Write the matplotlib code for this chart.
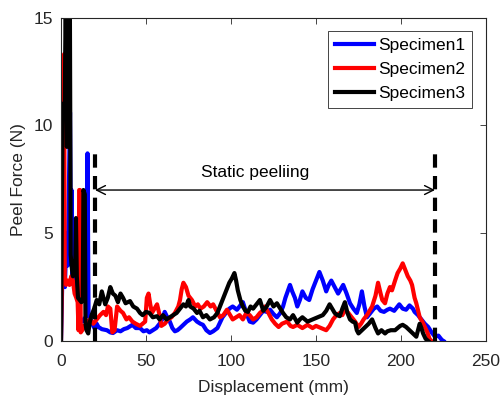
import numpy as np
import matplotlib
matplotlib.use("Agg")
import matplotlib.pyplot as plt

plt.rcParams['font.family'] = ['Liberation Sans', 'DejaVu Sans']

# ---- data ----
x1 = [0, 0.8, 1.5, 2.3, 3.2, 4.0, 4.8, 5.3, 5.8, 6.2, 6.6, 7.5, 8.5, 9.5, 10.5, 11.5, 12.5, 13.5, 14.5, 15.2, 15.6, 16.2, 17, 18, 19, 20, 21, 22, 24, 27, 29, 30.6, 33, 35, 37, 39, 42, 44, 46.5, 48.5, 50.5, 52, 54, 56, 58, 59.5, 61, 62.5, 64, 65.5, 67, 68.5, 70, 72, 74, 76, 77.6, 80, 82, 83.5, 85.5, 87.6, 89.5, 92, 93.5, 95, 97, 99, 101, 103.5, 105, 107, 109, 111, 113, 115, 117, 119, 121, 123, 125, 127, 129, 130.6, 132, 134.7, 136, 137.6, 139, 140.5, 142, 144, 146, 148, 150, 152, 154, 156, 157.5, 159, 161, 163, 164.5, 166, 168, 170, 172, 174, 175.5, 177, 178.5, 180, 182, 184, 186, 188, 190, 192, 193.5, 196, 199, 201, 203, 205, 207, 208, 210, 212, 214, 216, 218, 220, 222, 224, 225]
y1 = [0, 3, 6, 2.5, 5, 3.5, 8, 10.6, 4, 7.0, 3.0, 3.5, 2.8, 2.2, 1.5, 1.0, 0.9, 1.0, 1.1, 1.2, 8.7, 1.3, 1.1, 0.9, 0.7, 0.55, 0.8, 0.65, 0.55, 0.5, 0.4, 0.37, 0.5, 0.45, 0.55, 0.6, 0.75, 0.6, 0.6, 0.45, 0.5, 0.4, 0.5, 0.6, 0.8, 1.0, 1.35, 1.1, 0.9, 0.6, 0.45, 0.5, 0.6, 0.75, 0.9, 1.0, 1.1, 0.9, 0.8, 0.75, 0.5, 0.37, 0.45, 0.6, 0.85, 1.1, 1.3, 1.5, 1.6, 1.45, 1.6, 1.8, 1.3, 0.9, 0.85, 1.0, 1.2, 1.4, 1.35, 1.45, 1.25, 1.1, 1.3, 1.6, 2.0, 2.6, 2.3, 2.0, 1.6, 1.9, 2.3, 2.0, 1.9, 2.4, 2.8, 3.2, 2.8, 2.3, 2.6, 2.8, 2.5, 2.2, 2.4, 2.6, 2.2, 1.75, 1.5, 1.3, 1.7, 2.3, 1.6, 1.1, 1.3, 1.5, 1.6, 1.4, 1.35, 1.45, 1.5, 1.4, 1.7, 1.5, 1.45, 1.65, 1.5, 1.35, 1.2, 1.0, 0.8, 0.65, 0.4, 0.2, 0.25, 0.05, 0.0]

x2 = [0, 0.8, 1.4, 1.8, 2.2, 3, 4, 5, 6, 7, 8, 9, 9.8, 10.3, 10.7, 11.2, 11.6, 12.5, 13.5, 14.5, 15.5, 17, 19, 21, 23, 25, 26.5, 27.6, 29, 30.2, 31.5, 33, 35, 36.5, 38.5, 40, 42, 44, 46.5, 48, 49.5, 50.5, 51.5, 52.5, 53.5, 55, 56.5, 58, 59, 61, 63, 65, 67, 69, 70, 71, 72, 73.5, 75, 77, 79, 80.5, 82, 84, 86, 88, 89.5, 91.5, 93.5, 95.5, 97.6, 99.5, 101, 103, 105, 107, 109, 111, 113, 115, 117, 118.5, 120, 122, 124, 126, 128, 130, 133, 135, 136.5, 139, 142, 145, 148, 150, 153, 156, 158, 160, 162, 164, 165.5, 167, 169, 171, 173, 175, 176.5, 178, 180, 181.5, 183, 185, 186.5, 188, 189, 190.6, 192, 193.5, 194.7, 196.5, 198, 199.5, 201, 202.5, 204, 205.5, 206.5, 208, 209, 211, 212.5, 214, 215.5, 217, 218]
y2 = [0, 4, 9, 13.3, 3.0, 2.6, 2.8, 2.6, 3.0, 2.8, 2.2, 2.0, 1.8, 0.5, 7.0, 7.0, 0.4, 0.5, 0.7, 0.6, 0.9, 1.0, 0.8, 1.0, 1.2, 1.35, 1.2, 1.6, 1.5, 0.4, 0.5, 1.6, 1.4, 1.3, 1.0, 1.1, 0.9, 0.8, 0.7, 0.8, 0.9, 2.0, 2.2, 1.7, 1.3, 1.5, 1.7, 1.2, 0.7, 0.8, 1.0, 1.1, 1.3, 1.6, 1.9, 2.4, 2.7, 2.5, 2.1, 1.9, 1.6, 1.7, 1.5, 1.6, 1.8, 1.6, 1.7, 1.4, 1.1, 1.2, 1.45, 1.2, 1.0, 1.1, 1.2, 1.0, 1.3, 1.2, 1.0, 1.1, 1.3, 1.4, 1.6, 1.3, 1.0, 0.8, 0.65, 0.8, 0.9, 0.7, 0.65, 0.75, 0.6, 0.75, 0.6, 0.7, 0.6, 0.5, 0.7, 1.0, 1.2, 1.3, 1.2, 1.45, 1.3, 1.1, 0.9, 0.65, 0.8, 1.0, 1.2, 1.4, 1.6, 2.1, 2.7, 2.2, 1.9, 1.75, 2.2, 2.5, 2.35, 2.8, 3.15, 3.35, 3.6, 3.3, 3.0, 2.8, 2.6, 2.0, 1.75, 1.1, 0.9, 0.65, 0.4, 0.05, 0]

x3 = [0, 0.5, 1.0, 1.6, 2.2, 2.8, 3.5, 4.0, 4.6, 5.2, 5.7, 6.2, 7, 7.6, 8.3, 8.8, 9.3, 10, 11, 12, 12.8, 13.2, 14, 14.4, 15, 16, 17, 18, 19.5, 21, 22.5, 24, 25, 26, 27.5, 29, 30.5, 32, 33.5, 35, 36.5, 38, 40.6, 42.5, 44.7, 46.5, 48, 50, 52, 54, 56.5, 58, 60, 62, 64, 66, 68, 70, 72, 73.5, 75, 76, 78, 80, 81.5, 83.5, 85.5, 87.6, 90, 92, 93.5, 95, 97, 99, 100.5, 102, 103, 104, 105.5, 107, 108.5, 110, 111.5, 113, 115, 117, 119, 121, 123, 125, 127, 129, 130.6, 132.5, 134.7, 136.5, 139, 140.5, 142, 145, 148, 151, 154, 156, 158, 159.5, 161, 162.5, 164, 165.5, 167, 168.5, 170, 171.5, 173, 174, 175, 177, 179, 181, 183, 185, 186.5, 188.5, 190.6, 192, 194, 196.5, 198, 199.5, 201, 203, 205, 207, 209, 210, 211, 212, 213, 214.5, 216]
y3 = [0, 6, 11.0, 10.5, 11.0, 16, 9, 16, 12, 16, 4, 3.5, 3.0, 3.7, 3.2, 5.7, 3.0, 2.0, 1.9, 1.8, 2.0, 7.0, 6.8, 0.8, 0.5, 0.35, 0.9, 1.2, 1.5, 1.9, 1.7, 2.3, 2.0, 1.7, 2.0, 2.5, 2.2, 2.1, 1.8, 2.2, 2.0, 1.75, 1.85, 1.6, 1.5, 1.3, 1.2, 1.35, 1.3, 1.1, 1.15, 1.0, 1.2, 1.0, 1.1, 1.2, 1.3, 1.5, 1.7, 1.6, 1.9, 1.6, 1.5, 1.3, 1.4, 1.1, 1.2, 1.0, 1.1, 1.3, 1.6, 1.9, 2.3, 2.7, 2.9, 3.15, 2.8, 2.35, 1.9, 1.6, 1.4, 1.35, 1.6, 1.5, 1.7, 1.9, 1.4, 1.6, 1.9, 1.6, 1.75, 1.5, 1.3, 1.1, 1.0, 1.2, 0.85, 1.0, 1.1, 0.9, 1.0, 1.1, 1.2, 1.4, 1.7, 1.5, 1.3, 1.2, 1.15, 1.5, 1.8, 1.3, 1.0, 0.9, 0.85, 0.5, 0.35, 0.5, 0.65, 0.8, 1.0, 0.6, 0.35, 0.5, 0.35, 0.45, 0.5, 0.5, 0.6, 0.7, 0.75, 0.65, 0.5, 0.35, 0.2, 0.5, 0.8, 0.6, 0.35, 0.1, 0]

series_names = ["Specimen1", "Specimen2", "Specimen3"]
series_colors = ["#0000ff", "#ff0000", "#000000"]

region_start, region_end = 20, 220
region_top = 9
arrow_y = 7
label_text = "Static peeliing"

xticks = [0, 50, 100, 150, 200, 250]
yticks = [0, 5, 10, 15]

# ---- figure ----
fig = plt.figure(figsize=(5.01, 3.95), dpi=100)
ax = fig.add_axes([61/501, 1-341/395, 425/501, 323.5/395])

for xs, ys, name, c in zip([x1, x2, x3], [y1, y2, y3], series_names, series_colors):
    ax.plot(xs, ys, color=c, lw=3.0, label=name, solid_joinstyle='round')

for xv in (region_start, region_end):
    ax.plot([xv, xv], [0, region_top], color='k', lw=3.0, linestyle=(0, (3.2, 2.0)))

ax.annotate('', xy=(region_start, arrow_y), xytext=(region_end, arrow_y),
            arrowprops=dict(arrowstyle='<->', lw=1.0, color='k', mutation_scale=16,
                            shrinkA=0, shrinkB=0))
ax.text(114, 7.8, label_text, ha='center', va='center', fontsize=12.5, color='k')

ax.set_xlim(0, 250)
ax.set_ylim(0, 15)
ax.set_xticks(xticks)
ax.set_yticks(yticks)
gray = '#262626'
ax.tick_params(direction='in', top=True, right=True, length=4, width=0.6,
               labelsize=12.5, colors=gray)
ax.tick_params(axis='x', pad=9)
ax.tick_params(axis='y', pad=6)
for s in ax.spines.values():
    s.set_color(gray)
    s.set_linewidth(0.8)
ax.set_xlabel("Displacement (mm)", fontsize=12.5, color=gray, labelpad=8)
ax.set_ylabel("Peel Force (N)", fontsize=12.5, color=gray, labelpad=5)

leg = ax.legend(loc='upper right', bbox_to_anchor=(472/501, 1-31/395), bbox_transform=fig.transFigure,
                fancybox=False, framealpha=1, edgecolor=gray, fontsize=12.5,
                handlelength=2.2, handletextpad=0.25, borderpad=0.4, labelspacing=0.5,
                borderaxespad=0)
leg.get_frame().set_linewidth(0.6)
for line in leg.get_lines():
    line.set_linewidth(3)

fig.savefig("out.png", dpi=100)
